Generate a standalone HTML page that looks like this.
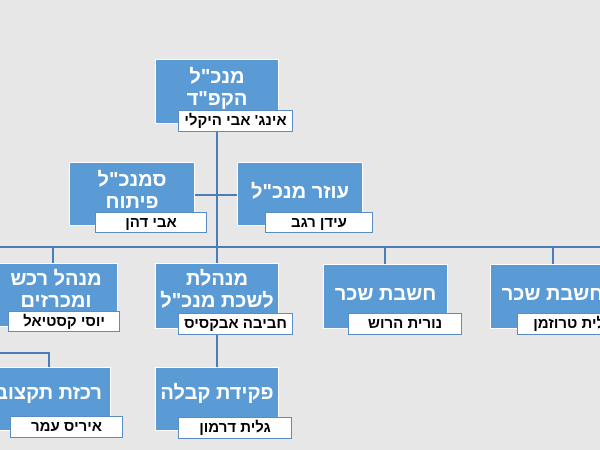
<!DOCTYPE html>
<html><head><meta charset="utf-8"><style>
body{margin:0;width:600px;height:450px;background:#e8e7e7;position:relative;overflow:hidden;font-family:"Liberation Sans","Noto Sans CJK SC",sans-serif;direction:rtl}
.b{position:absolute;background:#5b9bd5;border:1px solid #fff;color:#fff;font-weight:bold;font-size:20px;line-height:22px;text-align:center;box-sizing:border-box}
.l{position:absolute;background:#fff;border:1px solid #5b8ec0;color:#000;font-weight:bold;font-size:15px;line-height:19px;text-align:center;box-sizing:border-box;white-space:nowrap}
.h,.v{position:absolute;background:#4a7eb5}
.h{height:2px}.v{width:2px}
</style></head><body>
<div class="v" style="left:216px;top:123px;height:125px"></div>
<div class="h" style="left:195px;top:194px;width:44px"></div>
<div class="h" style="left:0;top:246px;width:600px"></div>
<div class="v" style="left:52px;top:246px;height:18px"></div>
<div class="v" style="left:216px;top:246px;height:18px"></div>
<div class="v" style="left:384px;top:246px;height:18px"></div>
<div class="v" style="left:552px;top:246px;height:18px"></div>
<div class="v" style="left:216px;top:330px;height:38px"></div>
<div class="h" style="left:0;top:352px;width:50px"></div>
<div class="v" style="left:48px;top:352px;height:16px"></div>

<div class="b" style="left:155px;top:59px;width:124px;height:65px;padding-top:6px">מנכ"ל<br>הקפ"ד</div>
<div class="l" style="left:178px;top:110px;width:115px;height:22px">אינג' אבי היקלי</div>

<div class="b" style="left:69px;top:162px;width:126px;height:64px;padding-top:6px">סמנכ"ל<br>פיתוח</div>
<div class="l" style="left:95px;top:212px;width:112px;height:21px">אבי דהן</div>

<div class="b" style="left:237px;top:162px;width:126px;height:64px;padding-top:18px">עוזר מנכ"ל</div>
<div class="l" style="left:265px;top:212px;width:108px;height:21px">עידן רגב</div>

<div class="b" style="left:-6px;top:263px;width:124px;height:64px;padding-top:4px">מנהל רכש<br>ומכרזים</div>
<div class="l" style="left:8px;top:311px;width:112px;height:21px">יוסי קסטיאל</div>

<div class="b" style="left:155px;top:263px;width:124px;height:66px;padding-top:4px">מנהלת<br>לשכת מנכ"ל</div>
<div class="l" style="left:178px;top:313px;width:115px;height:22px">חביבה אבקסיס</div>

<div class="b" style="left:323px;top:264px;width:125px;height:65px;padding-top:18px">חשבת שכר</div>
<div class="l" style="left:348px;top:313px;width:114px;height:22px">נורית הרוש</div>

<div class="b" style="left:490px;top:264px;width:125px;height:65px;padding-top:18px">חשבת שכר</div>
<div class="l" style="left:517px;top:313px;width:100px;height:22px;text-align:right;padding-right:4px;overflow:hidden">גלית טרוזמן</div>

<div class="b" style="left:-14px;top:367px;width:125px;height:64px;padding-top:14px">רכזת תקצוב</div>
<div class="l" style="left:10px;top:416px;width:113px;height:22px">איריס עמר</div>

<div class="b" style="left:155px;top:367px;width:124px;height:64px;padding-top:14px">פקידת קבלה</div>
<div class="l" style="left:178px;top:417px;width:114px;height:22px">גלית דרמון</div>
</body></html>
